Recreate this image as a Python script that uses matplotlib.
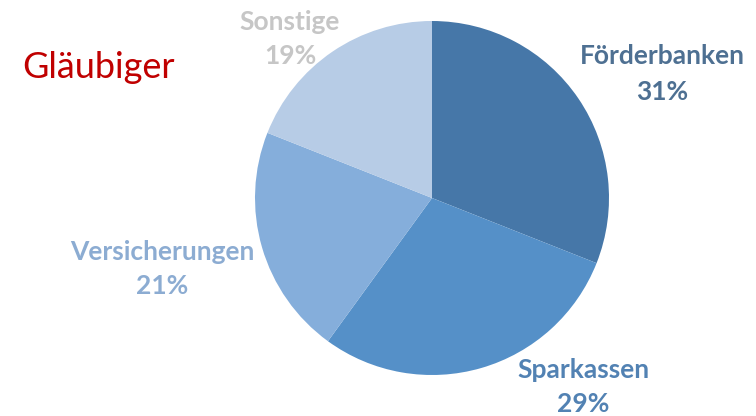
import matplotlib
matplotlib.use("Agg")
import matplotlib.pyplot as plt

# data
categories = ["Förderbanken", "Sparkassen", "Versicherungen", "Sonstige"]
shares = [31, 29, 21, 19]
slice_colors = ["#4677A8", "#5590C8", "#85AEDB", "#B7CCE6"]
label_colors = ["#4E7092", "#5282B3", "#8CACD2", "#C6C6C6"]
# label centres in figure pixels (x, y from top)
label_pos = [(662, 74), (583, 387), (162, 269), (290, 39)]

W, H = 756, 416
fig = plt.figure(figsize=(W / 100, H / 100), dpi=100)
fig.patch.set_facecolor("white")

cx, cy, r = 432, 198, 177
ax = fig.add_axes([(cx - r) / W, (H - cy - r) / H, 2 * r / W, 2 * r / H])
ax.pie(shares, colors=slice_colors, startangle=90, counterclock=False,
       radius=1, wedgeprops=dict(linewidth=0))
ax.set_xlim(-1, 1)
ax.set_ylim(-1, 1)
ax.set_aspect("equal")
ax.axis("off")

for name, val, col, (px, py) in zip(categories, shares, label_colors, label_pos):
    ls = 1.45 if name == "Sparkassen" else 1.55
    fig.text(px / W, 1 - py / H, f"{name}\n{val}%", ha="center", va="center",
             color=col, fontsize=19, fontweight="bold", family="Lato",
             linespacing=ls)

fig.text(22 / W, 1 - 67 / H, "Gläubiger", ha="left", va="center",
         color="#C00000", fontsize=26, family="Lato")

fig.savefig("out.png", dpi=100, facecolor="white")
